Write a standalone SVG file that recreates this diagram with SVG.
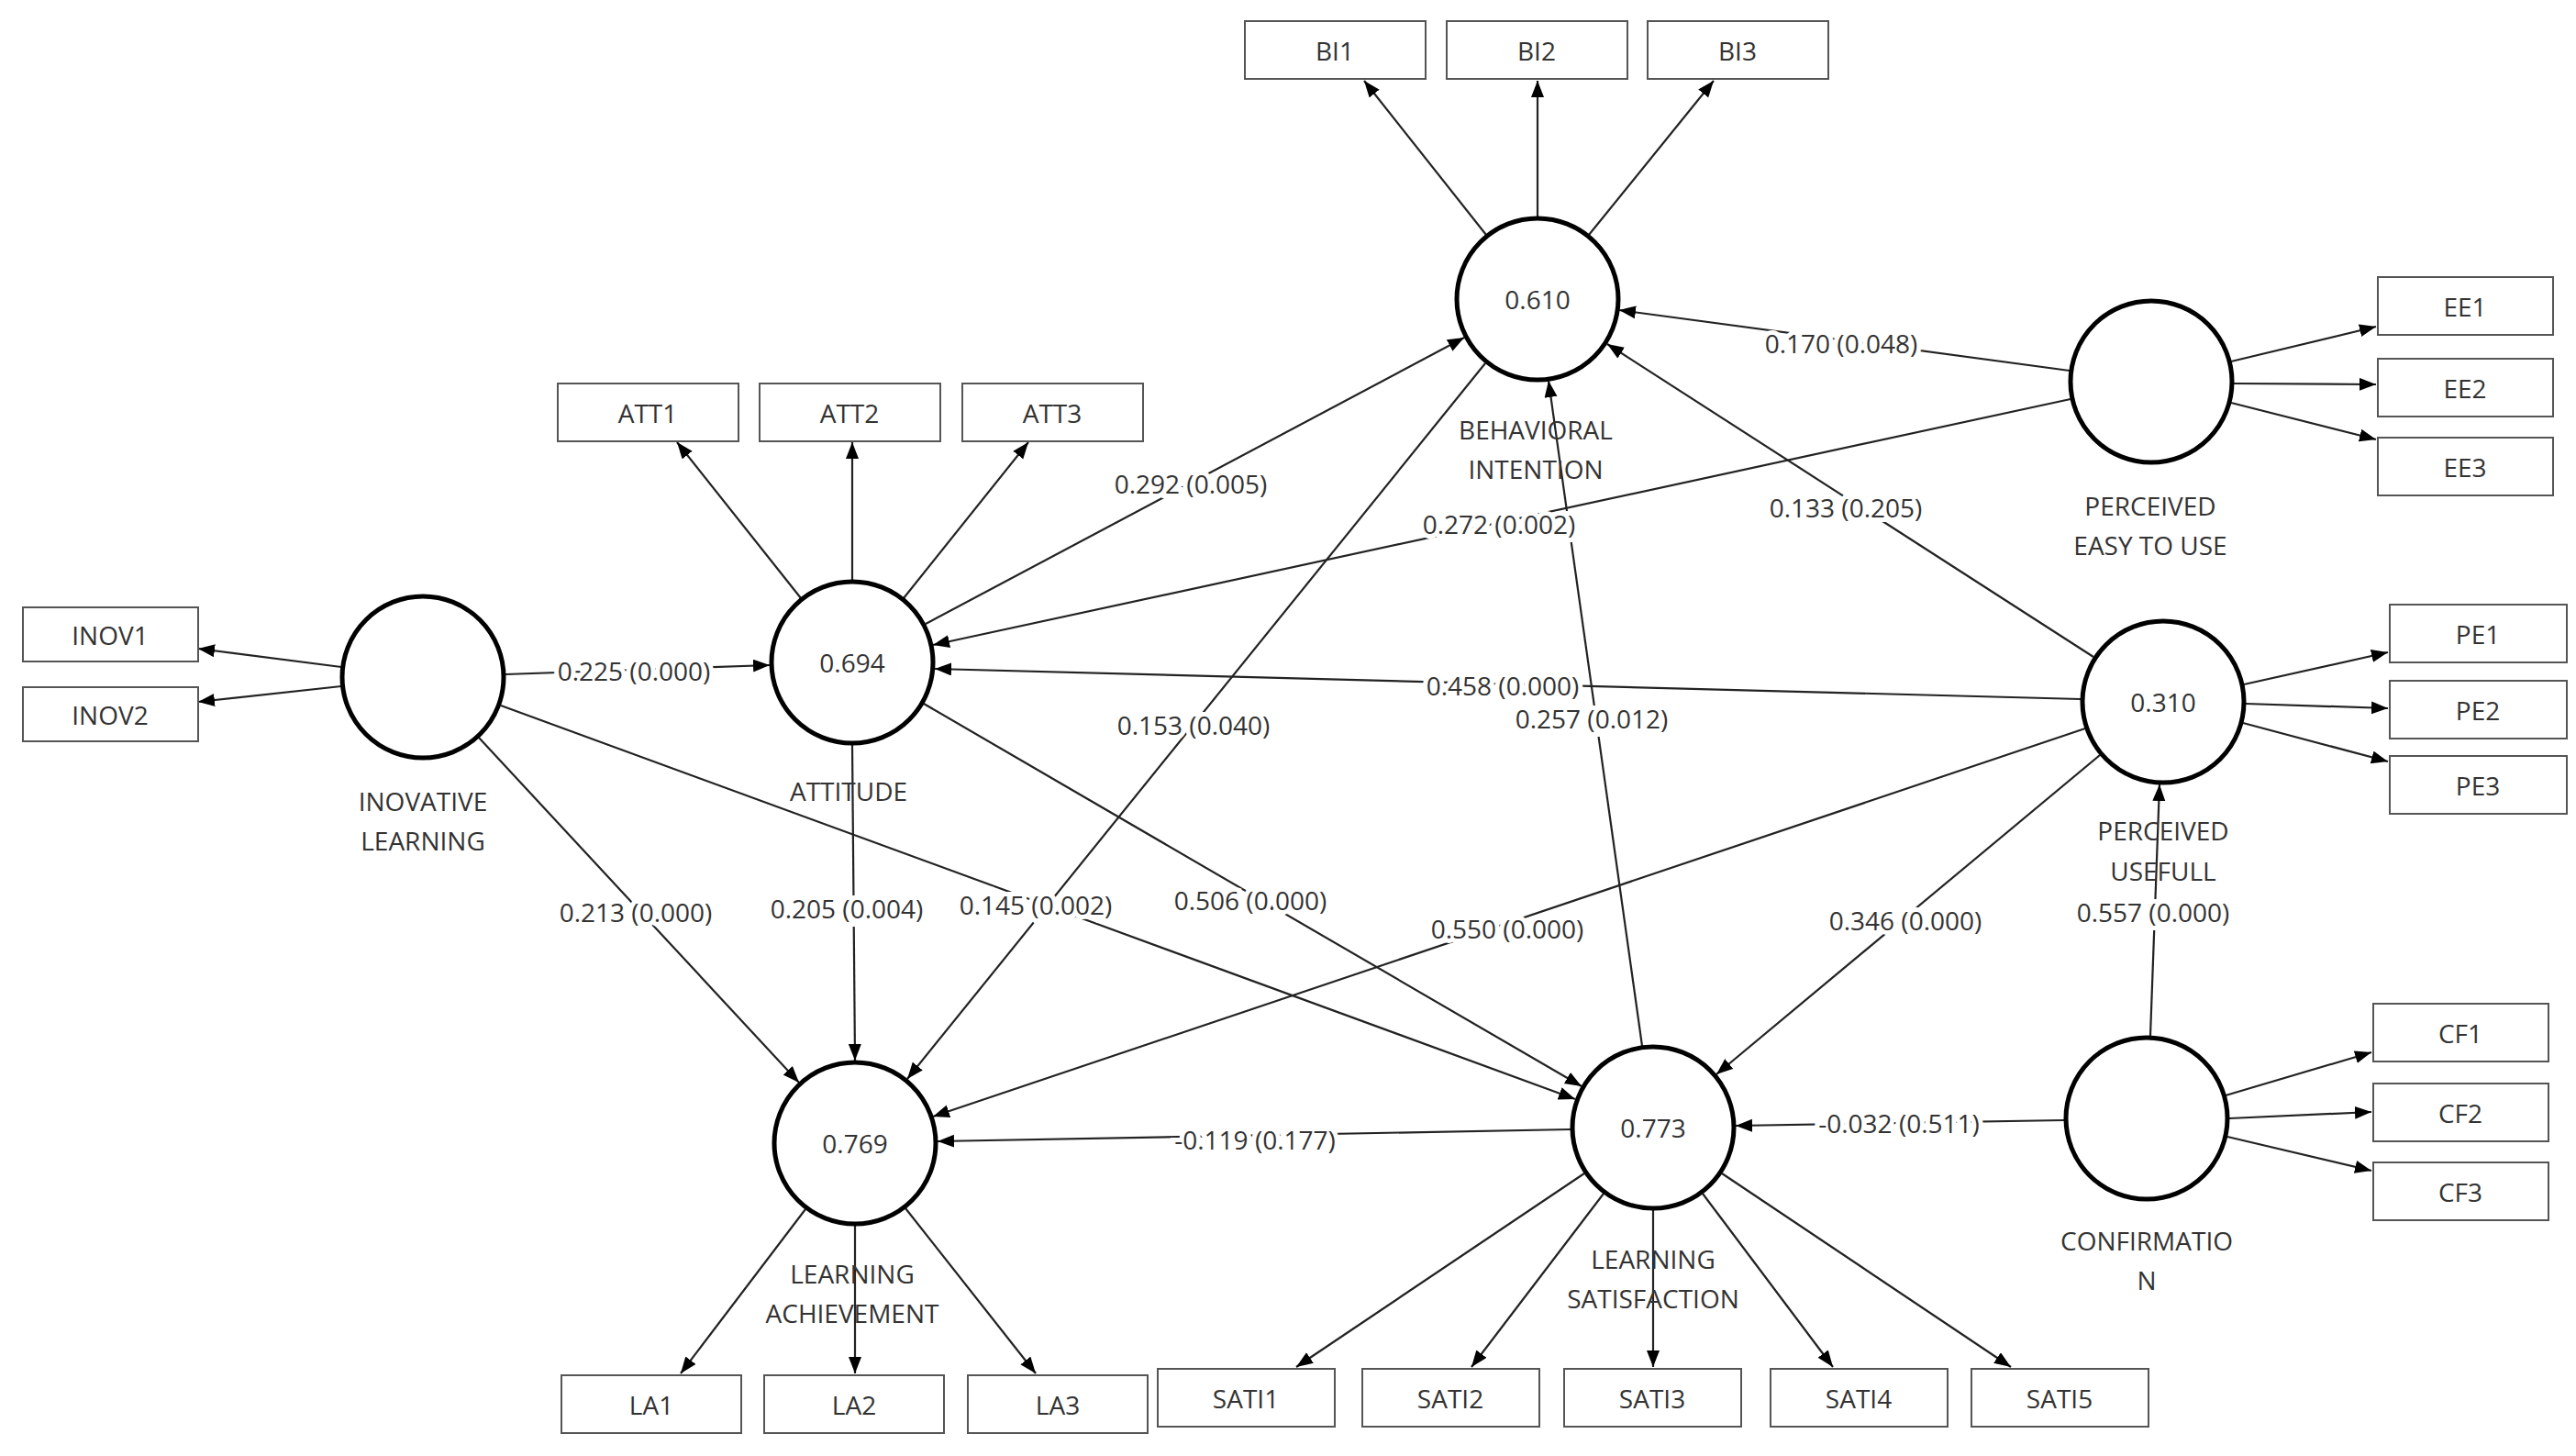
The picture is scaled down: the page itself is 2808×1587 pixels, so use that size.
<svg xmlns="http://www.w3.org/2000/svg" width="2808" height="1587" viewBox="0 0 2808 1587">
<style>
.c{fill:#fff;stroke:#000;stroke-width:5}
.b{fill:#fff;stroke:#555;stroke-width:2}
text{font-family:"Open Sans","Liberation Sans",sans-serif;font-size:28px;fill:#333;text-anchor:middle;dominant-baseline:central}
.l{paint-order:stroke;stroke:#fff;stroke-width:10px}
#e line{stroke:#222;stroke-width:2.2;marker-end:url(#a)}
</style>
<defs><marker id="a" markerUnits="userSpaceOnUse" markerWidth="20" markerHeight="16" refX="18" refY="7" orient="auto"><path d="M0,0 L18,7 L0,14 z" fill="#000"/></marker></defs>
<rect width="2808" height="1587" fill="#fff"/>
<g id="e">
<line x1="551" y1="735" x2="839" y2="725"/>
<line x1="1009" y1="680" x2="1596" y2="368"/>
<line x1="2256" y1="404" x2="1765" y2="338"/>
<line x1="2257" y1="435" x2="1017" y2="703"/>
<line x1="2282" y1="716" x2="1752" y2="375"/>
<line x1="2268" y1="762" x2="1019" y2="729"/>
<line x1="1790" y1="1140" x2="1688" y2="415"/>
<line x1="1619" y1="396" x2="989" y2="1176"/>
<line x1="522" y1="804" x2="871" y2="1180"/>
<line x1="929" y1="812" x2="932" y2="1156"/>
<line x1="546" y1="769" x2="1717" y2="1198"/>
<line x1="1007" y1="767" x2="1724" y2="1184"/>
<line x1="2273" y1="794" x2="1017" y2="1217"/>
<line x1="2289" y1="823" x2="1871" y2="1171"/>
<line x1="2344" y1="1129" x2="2354" y2="855"/>
<line x1="1712" y1="1231" x2="1022" y2="1244"/>
<line x1="2250" y1="1221" x2="1892" y2="1227"/>
<line x1="1620" y1="256" x2="1487" y2="88"/>
<line x1="1676" y1="236" x2="1676" y2="88"/>
<line x1="1732" y1="256" x2="1868" y2="88"/>
<line x1="873" y1="652" x2="738" y2="482"/>
<line x1="929" y1="632" x2="929" y2="482"/>
<line x1="985" y1="652" x2="1121" y2="482"/>
<line x1="372" y1="727" x2="216" y2="707"/>
<line x1="372" y1="748" x2="216" y2="765"/>
<line x1="2432" y1="394" x2="2590" y2="356"/>
<line x1="2435" y1="418" x2="2590" y2="419"/>
<line x1="2432" y1="439" x2="2590" y2="479"/>
<line x1="2446" y1="746" x2="2603" y2="711"/>
<line x1="2448" y1="767" x2="2603" y2="772"/>
<line x1="2445" y1="788" x2="2603" y2="830"/>
<line x1="2426" y1="1194" x2="2585" y2="1147"/>
<line x1="2430" y1="1219" x2="2585" y2="1212"/>
<line x1="2428" y1="1239" x2="2585" y2="1276"/>
<line x1="878" y1="1318" x2="742" y2="1497"/>
<line x1="932" y1="1336" x2="932" y2="1497"/>
<line x1="987" y1="1317" x2="1129" y2="1497"/>
<line x1="1727" y1="1279" x2="1413" y2="1490"/>
<line x1="1748" y1="1301" x2="1604" y2="1490"/>
<line x1="1802" y1="1319" x2="1802" y2="1490"/>
<line x1="1856" y1="1301" x2="1998" y2="1490"/>
<line x1="1877" y1="1279" x2="2192" y2="1490"/>
</g>
<g id="el">
<text class="l" x="691" y="731">0.225 (0.000)</text>
<text class="l" x="1298" y="527">0.292 (0.005)</text>
<text class="l" x="2007" y="374">0.170 (0.048)</text>
<text class="l" x="1634" y="571">0.272 (0.002)</text>
<text class="l" x="2012" y="553">0.133 (0.205)</text>
<text class="l" x="1638" y="747">0.458 (0.000)</text>
<text class="l" x="1735" y="783">0.257 (0.012)</text>
<text class="l" x="1301" y="790">0.153 (0.040)</text>
<text class="l" x="693" y="994">0.213 (0.000)</text>
<text class="l" x="923" y="990">0.205 (0.004)</text>
<text class="l" x="1129" y="986">0.145 (0.002)</text>
<text class="l" x="1363" y="981">0.506 (0.000)</text>
<text class="l" x="1643" y="1012">0.550 (0.000)</text>
<text class="l" x="2077" y="1003">0.346 (0.000)</text>
<text class="l" x="2347" y="994">0.557 (0.000)</text>
<text class="l" x="1368" y="1242">-0.119 (0.177)</text>
<text class="l" x="2070" y="1224">-0.032 (0.511)</text>
</g>
<g id="BI"><circle class="c" cx="1676" cy="326" r="88"/><text x="1676" y="326">0.610</text><text x="1674" y="468">BEHAVIORAL</text><text x="1674" y="511">INTENTION</text></g>
<g id="EE"><circle class="c" cx="2345" cy="416" r="88"/><text x="2344" y="551">PERCEIVED</text><text x="2344" y="594">EASY TO USE</text></g>
<g id="PU"><circle class="c" cx="2358" cy="765" r="88"/><text x="2358" y="765">0.310</text><text x="2358" y="905">PERCEIVED</text><text x="2358" y="949">USEFULL</text></g>
<g id="ATT"><circle class="c" cx="929" cy="722" r="88"/><text x="929" y="722">0.694</text><text x="925" y="862">ATTITUDE</text></g>
<g id="INOV"><circle class="c" cx="461" cy="738" r="88"/><text x="461" y="873">INOVATIVE</text><text x="461" y="916">LEARNING</text></g>
<g id="LA"><circle class="c" cx="932" cy="1246" r="88"/><text x="932" y="1246">0.769</text><text x="929" y="1388">LEARNING</text><text x="929" y="1431">ACHIEVEMENT</text></g>
<g id="LS"><circle class="c" cx="1802" cy="1229" r="88"/><text x="1802" y="1229">0.773</text><text x="1802" y="1372">LEARNING</text><text x="1802" y="1415">SATISFACTION</text></g>
<g id="CF"><circle class="c" cx="2340" cy="1219" r="88"/><text x="2340" y="1352">CONFIRMATIO</text><text x="2340" y="1395">N</text></g>
<g id="boxes">
<g id="bBI1"><rect class="b" x="1357" y="23" width="197" height="63"/><text x="1455" y="55">BI1</text></g>
<g id="bBI2"><rect class="b" x="1577" y="23" width="197" height="63"/><text x="1675" y="55">BI2</text></g>
<g id="bBI3"><rect class="b" x="1796" y="23" width="197" height="63"/><text x="1894" y="55">BI3</text></g>
<g id="bATT1"><rect class="b" x="608" y="418" width="197" height="63"/><text x="706" y="450">ATT1</text></g>
<g id="bATT2"><rect class="b" x="828" y="418" width="197" height="63"/><text x="926" y="450">ATT2</text></g>
<g id="bATT3"><rect class="b" x="1049" y="418" width="197" height="63"/><text x="1147" y="450">ATT3</text></g>
<g id="bINOV1"><rect class="b" x="25" y="662" width="191" height="59"/><text x="120" y="692">INOV1</text></g>
<g id="bINOV2"><rect class="b" x="25" y="749" width="191" height="59"/><text x="120" y="779">INOV2</text></g>
<g id="bEE1"><rect class="b" x="2592" y="302" width="191" height="63"/><text x="2687" y="334">EE1</text></g>
<g id="bEE2"><rect class="b" x="2592" y="391" width="191" height="63"/><text x="2687" y="423">EE2</text></g>
<g id="bEE3"><rect class="b" x="2592" y="477" width="191" height="63"/><text x="2687" y="509">EE3</text></g>
<g id="bPE1"><rect class="b" x="2605" y="659" width="193" height="63"/><text x="2701" y="691">PE1</text></g>
<g id="bPE2"><rect class="b" x="2605" y="742" width="193" height="63"/><text x="2701" y="774">PE2</text></g>
<g id="bPE3"><rect class="b" x="2605" y="824" width="193" height="63"/><text x="2701" y="856">PE3</text></g>
<g id="bCF1"><rect class="b" x="2587" y="1094" width="191" height="63"/><text x="2682" y="1126">CF1</text></g>
<g id="bCF2"><rect class="b" x="2587" y="1181" width="191" height="63"/><text x="2682" y="1213">CF2</text></g>
<g id="bCF3"><rect class="b" x="2587" y="1267" width="191" height="63"/><text x="2682" y="1299">CF3</text></g>
<g id="bLA1"><rect class="b" x="612" y="1499" width="196" height="63"/><text x="710" y="1531">LA1</text></g>
<g id="bLA2"><rect class="b" x="833" y="1499" width="196" height="63"/><text x="931" y="1531">LA2</text></g>
<g id="bLA3"><rect class="b" x="1055" y="1499" width="196" height="63"/><text x="1153" y="1531">LA3</text></g>
<g id="bS1"><rect class="b" x="1262" y="1492" width="193" height="63"/><text x="1358" y="1524">SATI1</text></g>
<g id="bS2"><rect class="b" x="1485" y="1492" width="193" height="63"/><text x="1581" y="1524">SATI2</text></g>
<g id="bS3"><rect class="b" x="1705" y="1492" width="193" height="63"/><text x="1801" y="1524">SATI3</text></g>
<g id="bS4"><rect class="b" x="1930" y="1492" width="193" height="63"/><text x="2026" y="1524">SATI4</text></g>
<g id="bS5"><rect class="b" x="2149" y="1492" width="193" height="63"/><text x="2245" y="1524">SATI5</text></g>
</g>
</svg>
